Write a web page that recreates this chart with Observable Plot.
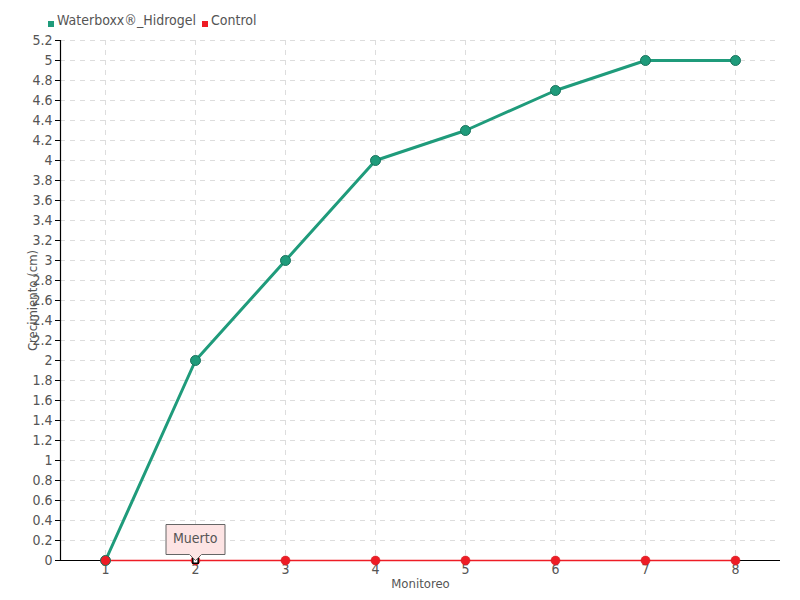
<!DOCTYPE html>
<html>
<head>
<meta charset="utf-8">
<script src="https://cdn.jsdelivr.net/npm/d3@7"></script>
<script src="https://cdn.jsdelivr.net/npm/@observablehq/plot@0.6"></script>
<style>
  body { margin: 0; background: #fff; }
  #wrap { position: relative; width: 800px; height: 600px; font-family: "DejaVu Sans Condensed", "DejaVu Sans", sans-serif; }
  #legend { position: absolute; left: 48px; top: 12px; font-size: 14px; color: #555; display: flex; gap: 6px; align-items: center; }
  #legend span.sw { display: inline-block; width: 6px; height: 6px; margin-right: 3px; vertical-align: -2px; }
</style>
</head>
<body>
<div id="wrap"><div id="legend"></div></div>
<script>
const monitoreo = [1, 2, 3, 4, 5, 6, 7, 8];
const waterboxx = [0, 2, 3, 4, 4.3, 4.7, 5, 5];
const control = [0, 0, 0, 0, 0, 0, 0, 0];
const seriesNames = ["Waterboxx®_Hidrogel", "Control"];
const seriesColors = ["#1f9b7b", "#ee1c25"];
const yTicks = d3.range(0, 27).map(i => +(i * 0.2).toFixed(1));
const annotation = [{x: 2, y: 0, label: "Muerto"}];

const dataW = monitoreo.map((m, i) => ({x: m, y: waterboxx[i]}));
const dataC = monitoreo.map((m, i) => ({x: m, y: control[i]}));

const legend = document.getElementById("legend");
seriesNames.forEach((n, i) => {
  const s = document.createElement("span");
  s.innerHTML = `<span class="sw" style="background:${seriesColors[i]}"></span>${n}`;
  legend.appendChild(s);
});

const chart = Plot.plot({
  width: 800,
  height: 600,
  marginLeft: 60,
  marginRight: 20,
  marginTop: 40,
  marginBottom: 40,
  style: {fontFamily: '"DejaVu Sans Condensed", "DejaVu Sans", sans-serif', fontSize: "13px", color: "#555", background: "transparent"},
  x: {domain: [0.5, 8.5], ticks: monitoreo, label: null},
  y: {domain: [0, 5.2], ticks: yTicks, label: null},
  marks: [
    Plot.gridY(yTicks, {stroke: "#ddd", strokeOpacity: 1, strokeDasharray: "5,5"}),
    Plot.gridX(monitoreo, {stroke: "#ddd", strokeOpacity: 1, strokeDasharray: "5,5"}),
    Plot.axisY(yTicks, {tickSize: 5, tickPadding: 3, stroke: "#000", tickFormat: d => String(d), fontSize: 14, label: null}),
    Plot.axisX(monitoreo, {tickSize: 0, tickPadding: 4, fontSize: 14, label: null}),
    Plot.ruleX([0.5], {stroke: "#000", strokeWidth: 1.2}),
    Plot.ruleY([0], {stroke: "#000", strokeWidth: 1}),
    Plot.text(["Monitoreo"], {frameAnchor: "bottom", dy: 27, fontSize: 13, fill: "#555"}),
    Plot.text(["Crecimiento (cm)"], {frameAnchor: "left", textAnchor: "middle", dx: -28, rotate: -90, fontSize: 13, fill: "#555"}),
    Plot.line(dataC, {x: "x", y: "y", stroke: seriesColors[1], strokeWidth: 1.5}),
    Plot.line(dataW, {x: "x", y: "y", stroke: seriesColors[0], strokeWidth: 3}),
    Plot.dot(dataC, {x: "x", y: "y", r: 4.5, fill: seriesColors[1], stroke: "#c91a22", strokeWidth: 0.5}),
    Plot.dot(dataW.slice(1), {x: "x", y: "y", r: 5, fill: seriesColors[0], stroke: "#17735c", strokeWidth: 1}),
    Plot.dot(dataW.slice(0, 1), {x: "x", y: "y", r: 5, fill: seriesColors[1], stroke: "#17735c", strokeWidth: 1}),
    Plot.dot(annotation, {x: "x", y: "y", symbol: "square", r: 3, fill: "#fff", stroke: "#000", strokeWidth: 1.5}),
    Plot.tip(annotation, {x: "x", y: "y", title: "label", anchor: "bottom", fill: "#fde4e4", stroke: "#666", fontSize: 14, textPadding: 7, pathFilter: null})
  ]
});
document.getElementById("wrap").appendChild(chart);
</script>
</body>
</html>
